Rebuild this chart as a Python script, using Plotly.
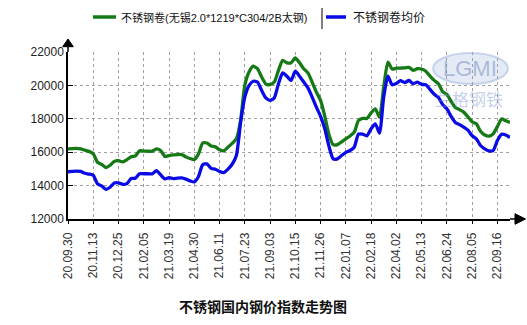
import plotly.graph_objects as go

# Tick labels (trade dates) placed every 6 observations
tick_labels = ["20.09.30", "20.11.13", "20.12.25", "21.02.05", "21.03.19", "21.04.30",
               "21.06.11", "21.07.23", "21.09.03", "21.10.15", "21.11.26", "22.01.07",
               "22.02.18", "22.04.02", "22.05.13", "22.06.24", "22.08.05", "22.09.16"]
tick_step = 6

series_names = ["不锈钢卷(无锡2.0*1219*C304/2B太钢)", "不锈钢卷均价"]

# 不锈钢卷(无锡2.0*1219*C304/2B太钢)
wuxi_price = [16200, 16220, 16230, 16200, 16120, 16050, 15900, 15400, 15270, 15080,
              15220, 15450, 15500, 15420, 15550, 15730, 15780, 16080, 16070, 16060,
              16060, 16200, 16100, 15750, 15800, 15840, 15860, 15860, 15720, 15620,
              15560, 15900, 16550, 16550, 16370, 16320, 16150, 16080, 16300, 16530,
              16800, 17890, 20000, 20800, 21150, 21000, 20500, 20080, 20050, 20200,
              20900, 21500, 21350, 21350, 21650, 21350, 21000, 20750, 20200, 19600,
              19100, 18150, 17050, 16450, 16450, 16620, 16800, 16970, 17200, 17900,
              18030, 18020, 18350, 18600, 18100, 19900, 21400, 20980, 21030, 21040,
              21050, 21080, 20900, 21000, 20980, 20850, 20560, 20300, 20100, 19620,
              19460, 19050, 18680, 18550, 18400, 18120, 17820, 17700, 17250, 17030,
              16960, 17100, 17530, 17990, 17880, 17780]

# 不锈钢卷均价
avg_price = [14830, 14850, 14870, 14850, 14740, 14690, 14620, 14100, 13980, 13780,
             13900, 14150, 14170, 14070, 14120, 14430, 14440, 14710, 14710, 14710,
             14700, 14900, 14650, 14400, 14470, 14420, 14450, 14460, 14390, 14280,
             14220, 14550, 15250, 15300, 15030, 14980, 14850, 14780, 14990, 15280,
             15800, 17780, 19300, 19990, 20250, 20200, 19700, 19250, 19100, 19250,
             20100, 20750, 20550, 20300, 20850, 20550, 20200, 19850, 19300, 18700,
             18150, 17400, 16350, 15600, 15600, 15800, 15990, 16100, 16300, 17080,
             17080, 16980, 17400, 17700, 17150, 19300, 20550, 20040, 20120, 20280,
             20170, 20300, 20100, 20200, 20060, 20040, 19760, 19470, 19280, 18850,
             18600, 18150, 17780, 17650, 17500, 17320, 16990, 16800, 16400, 16200,
             16080, 16100, 16700, 17080, 17030, 16880]

y_ticks = [12000, 14000, 16000, 18000, 20000, 22000]
y_tick_text = ["12000", "14000", "16000", "18000", "20000", "22000"]

x_idx = list(range(len(wuxi_price)))
tick_vals = [i * tick_step for i in range(len(tick_labels))]

GREEN = "#157a15"
BLUE = "#0a0ae6"
FONT = "Liberation Sans, Arial, Noto Sans CJK SC, sans-serif"
CJK = "Liberation Sans, Noto Sans CJK SC, sans-serif"

W, H = 527, 325
ML, MR, MT, MB = 68, 17, 52, 106
PW, PH = W - ML - MR, H - MT - MB


def px(x):
    """Pixel column -> paper x."""
    return (x - ML) / PW


def py(y):
    """Pixel row -> paper y."""
    return (H - MB - y) / PH


fig = go.Figure()
fig.add_trace(go.Scatter(
    x=x_idx, y=wuxi_price, mode="lines", name=series_names[0],
    line=dict(color=GREEN, width=3.3, shape="spline", smoothing=0.6),
))
fig.add_trace(go.Scatter(
    x=x_idx, y=avg_price, mode="lines", name=series_names[1],
    line=dict(color=BLUE, width=3.3, shape="spline", smoothing=0.6),
))

annotations = [
    dict(text="<b>不锈钢国内钢价指数走势图</b>", xref="paper", yref="paper",
         x=px(263), y=py(306), xanchor="center", yanchor="middle", showarrow=False,
         font=dict(family="Noto Sans CJK SC", size=14, color="#111")),
    # legend labels
    dict(text=series_names[0], xref="paper", yref="paper", x=px(119), y=py(17),
         xanchor="left", yanchor="middle", showarrow=False,
         font=dict(family=CJK, size=11, color="#111")),
    dict(text=series_names[1], xref="paper", yref="paper", x=px(351), y=py(17),
         xanchor="left", yanchor="middle", showarrow=False,
         font=dict(family=CJK, size=12, color="#111")),
    # watermark
    dict(text="LGMI", xref="paper", yref="paper", x=px(470), y=py(68),
         xanchor="center", yanchor="middle", showarrow=False,
         font=dict(family="Liberation Sans", size=22, color="rgba(120,140,190,0.55)")),
    dict(text="兰格钢铁", xref="paper", yref="paper", x=px(469), y=py(98),
         xanchor="center", yanchor="middle", showarrow=False,
         font=dict(family="Noto Sans CJK SC", size=17, color="rgba(120,150,210,0.45)")),
]

shapes = [
    # watermark ellipse
    dict(type="circle", xref="paper", yref="paper",
         x0=px(433), x1=px(508), y0=py(84), y1=py(53),
         line=dict(color="rgba(120,150,210,0.35)", width=2),
         fillcolor="rgba(150,175,220,0.25)", layer="below"),
    # legend samples
    dict(type="line", xref="paper", yref="paper", x0=px(93), x1=px(116),
         y0=py(17), y1=py(17), line=dict(color=GREEN, width=3.5)),
    dict(type="line", xref="paper", yref="paper", x0=px(326), x1=px(346),
         y0=py(17), y1=py(17), line=dict(color=BLUE, width=3.5)),
    # separator between legend entries
    dict(type="line", xref="paper", yref="paper", x0=px(322), x1=px(322),
         y0=py(8), y1=py(29), line=dict(color="#555", width=1.5)),
    # y-axis extension and arrowhead
    dict(type="line", xref="paper", yref="paper", x0=0, x1=0, y0=1, y1=py(45),
         line=dict(color="black", width=1.5)),
    dict(type="path", xref="paper", yref="paper",
         path=f"M {px(62.7)} {py(46.7)} L {px(68)} {py(39)} L {px(73.3)} {py(46.7)} Z",
         fillcolor="black", line=dict(color="black", width=1)),
    # x-axis extension and arrowhead
    dict(type="line", xref="paper", yref="paper", x0=1, x1=px(516), y0=0, y1=0,
         line=dict(color="black", width=1.5)),
    dict(type="path", xref="paper", yref="paper",
         path=f"M {px(515)} {py(213.7)} L {px(525.5)} {py(219)} L {px(515)} {py(224.3)} Z",
         fillcolor="black", line=dict(color="black", width=1)),
]

fig.update_layout(
    width=W, height=H,
    margin=dict(l=ML, r=MR, t=MT, b=MB, autoexpand=False),
    paper_bgcolor="white", plot_bgcolor="white",
    font=dict(family=FONT, size=12, color="#222"),
    showlegend=False,
    xaxis=dict(
        range=[0, len(wuxi_price) - 1],
        tickmode="array", tickvals=tick_vals, ticktext=tick_labels,
        tickangle=-90, tickfont=dict(size=12, color="#333"),
        showgrid=True, gridcolor="#a0a0a0", griddash="dot", gridwidth=1,
        showline=True, linecolor="black", linewidth=1.5,
        ticks="outside", ticklen=3, tickcolor="black", ticklabelstandoff=4,
        zeroline=False,
    ),
    yaxis=dict(
        range=[12000, 22000], tickmode="array", tickvals=y_ticks, ticktext=y_tick_text,
        tickfont=dict(size=12, color="#222"),
        showgrid=True, gridcolor="#a0a0a0", griddash="dot", gridwidth=1,
        showline=True, linecolor="black", linewidth=1.5,
        ticks="inside", ticklen=5, tickcolor="black", zeroline=False,
    ),
    annotations=annotations,
    shapes=shapes,
)

fig.write_html("out.html")
